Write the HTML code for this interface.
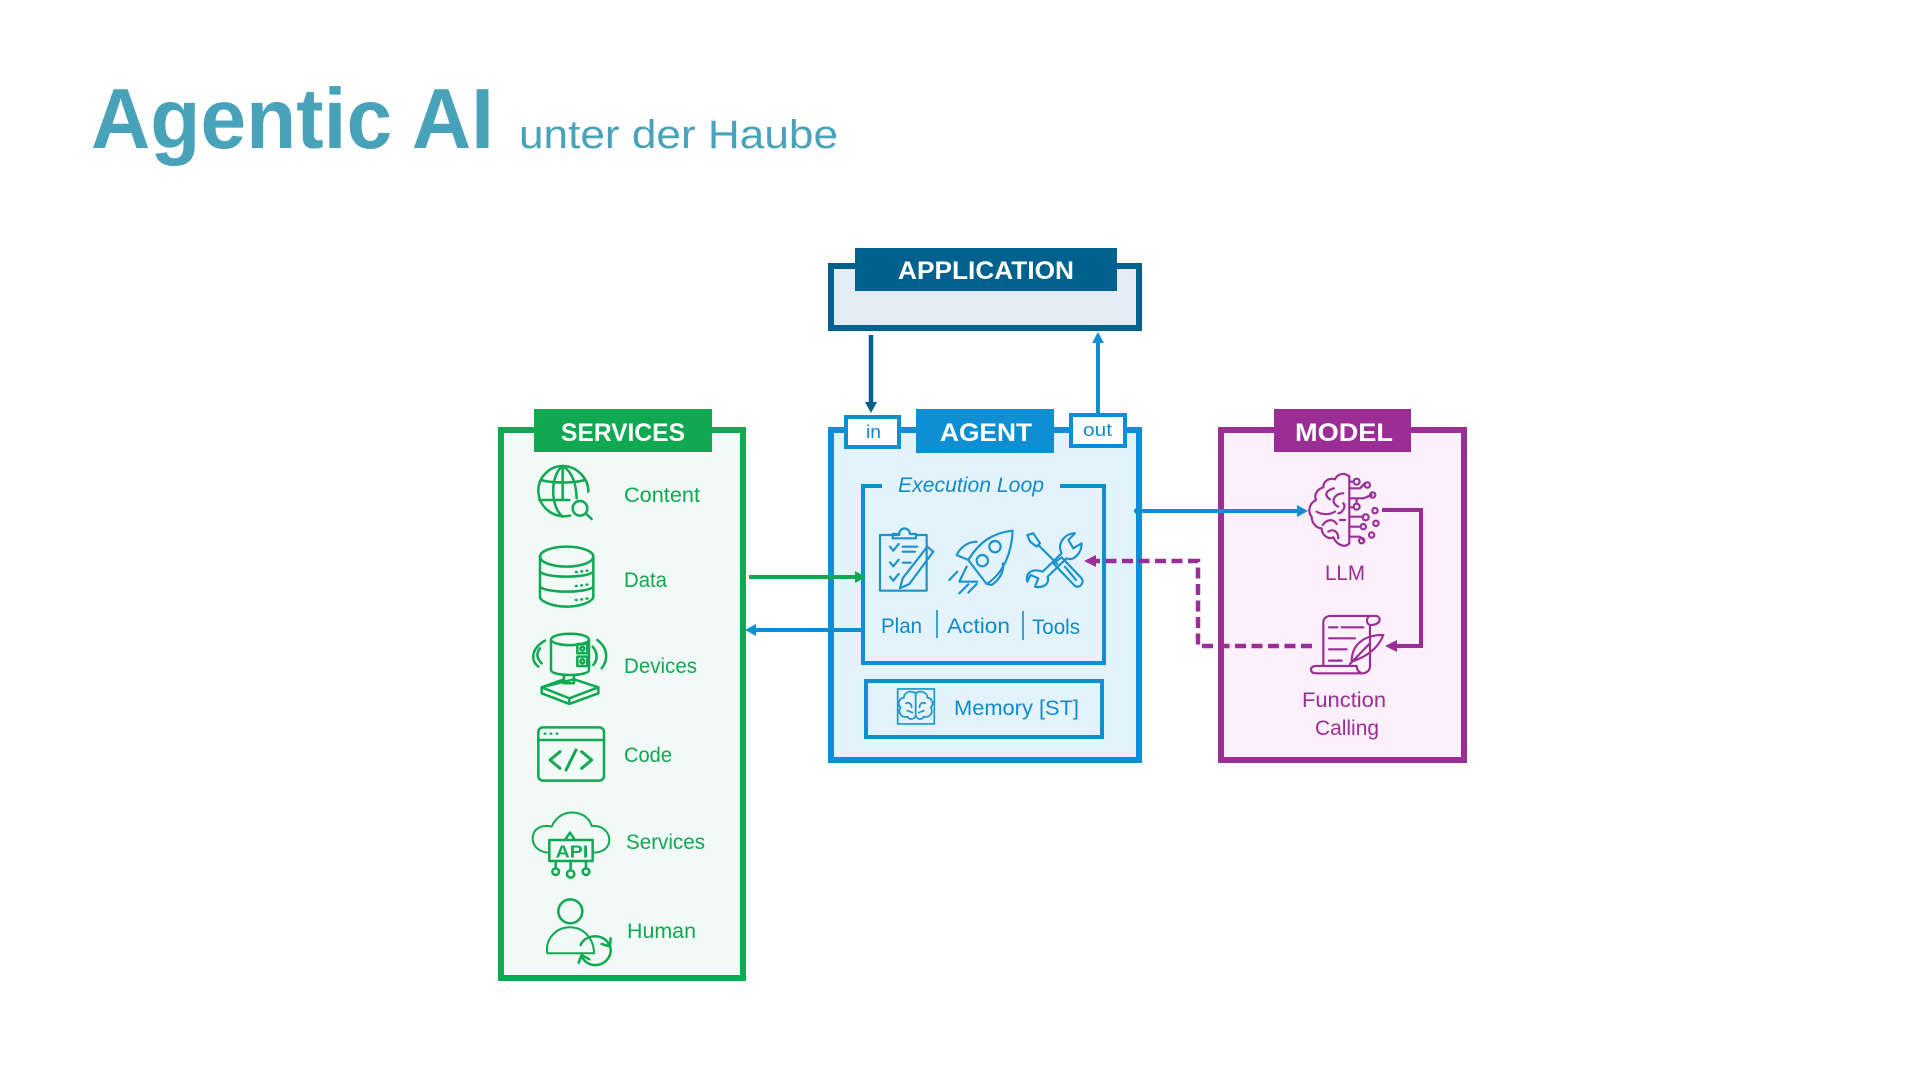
<!DOCTYPE html>
<html><head><meta charset="utf-8"><style>
html,body{margin:0;padding:0;background:#fff;width:1920px;height:1080px;overflow:hidden}
svg{display:block}
text{font-family:"Liberation Sans",sans-serif}
.h{font-weight:700;fill:#fff;font-size:25px}
.g{fill:#10A851;font-size:21px}
.b{fill:#0F8BCB;font-size:21px}
.m{fill:#9B2D96;font-size:21px}
.ig{fill:none;stroke:#10A851;stroke-width:7.5;stroke-linecap:round;stroke-linejoin:round}
.ib{fill:none;stroke:#1A93CC;stroke-width:6.5;stroke-linecap:round;stroke-linejoin:round}
.im{fill:none;stroke:#9B2D96;stroke-width:6.5;stroke-linecap:round;stroke-linejoin:round}
</style></head><body>
<svg width="1920" height="1080" viewBox="0 0 1920 1080" xmlns="http://www.w3.org/2000/svg">
<rect width="1920" height="1080" fill="#fff"/>
<text x="91" y="148" font-size="85" font-weight="700" fill="#48A3BA" textLength="403" lengthAdjust="spacingAndGlyphs">Agentic AI</text>
<text x="519" y="148" font-size="40" fill="#48A3BA" textLength="319" lengthAdjust="spacingAndGlyphs">unter der Haube</text>

<!-- Application -->
<rect x="831" y="266" width="308" height="62" fill="#E4EDF5" stroke="#00618F" stroke-width="6"/>
<rect x="855" y="248" width="262" height="43" fill="#00618F"/>
<text class="h" x="898" y="279" textLength="176" lengthAdjust="spacingAndGlyphs">APPLICATION</text>

<!-- Services -->
<rect x="501" y="430" width="242" height="548" fill="#F1FAF6" stroke="#10A851" stroke-width="6"/>
<rect x="534" y="409" width="178" height="43" fill="#10A851"/>
<text class="h" x="561" y="441" textLength="124" lengthAdjust="spacingAndGlyphs">SERVICES</text>

<!-- Agent -->
<rect x="831" y="430" width="308" height="330" fill="#E4F3FB" stroke="#0F8FD3" stroke-width="6"/>
<rect x="916" y="409" width="138" height="44" fill="#0F8FD3"/>
<text class="h" x="940" y="441" textLength="92" lengthAdjust="spacingAndGlyphs">AGENT</text>
<rect x="846" y="417" width="53" height="30" fill="#fff" stroke="#0F8FD3" stroke-width="4"/>
<text class="b" x="866" y="438" style="font-size:18px" textLength="15" lengthAdjust="spacingAndGlyphs">in</text>
<rect x="1071" y="415" width="54" height="31" fill="#fff" stroke="#0F8FD3" stroke-width="4"/>
<text class="b" x="1083" y="436" style="font-size:18px" textLength="29" lengthAdjust="spacingAndGlyphs">out</text>

<!-- Execution loop -->
<path d="M882 486H863V663H1104V486H1060" fill="none" stroke="#0F8FD3" stroke-width="4"/>
<text class="b" x="898" y="492" style="font-size:21px;font-style:italic" textLength="146" lengthAdjust="spacingAndGlyphs">Execution Loop</text>
<text class="b" x="881" y="633" textLength="41" lengthAdjust="spacingAndGlyphs">Plan</text>
<text class="b" x="947" y="633" textLength="63" lengthAdjust="spacingAndGlyphs">Action</text>
<text class="b" x="1032" y="634" textLength="48" lengthAdjust="spacingAndGlyphs">Tools</text>
<path d="M937 610V638M1023 611V640" stroke="#0F8FD3" stroke-width="1.6" fill="none"/>

<!-- Memory -->
<rect x="866" y="681" width="236" height="56" fill="none" stroke="#0F8FD3" stroke-width="4"/>
<text class="b" x="954" y="715" textLength="125" lengthAdjust="spacingAndGlyphs">Memory [ST]</text>

<!-- Model -->
<rect x="1221" y="430" width="243" height="330" fill="#FCF0FA" stroke="#9B2D96" stroke-width="6"/>
<rect x="1274" y="409" width="137" height="43" fill="#9B2D96"/>
<text class="h" x="1295" y="441" textLength="98" lengthAdjust="spacingAndGlyphs">MODEL</text>
<text class="m" x="1325" y="580" textLength="40" lengthAdjust="spacingAndGlyphs">LLM</text>
<text class="m" x="1302" y="707" textLength="84" lengthAdjust="spacingAndGlyphs">Function</text>
<text class="m" x="1315" y="735" textLength="64" lengthAdjust="spacingAndGlyphs">Calling</text>

<!-- Service labels -->
<text class="g" x="624" y="502" textLength="76" lengthAdjust="spacingAndGlyphs">Content</text>
<text class="g" x="624" y="587" textLength="43" lengthAdjust="spacingAndGlyphs">Data</text>
<text class="g" x="624" y="673" textLength="73" lengthAdjust="spacingAndGlyphs">Devices</text>
<text class="g" x="624" y="762" textLength="48" lengthAdjust="spacingAndGlyphs">Code</text>
<text class="g" x="626" y="849" textLength="79" lengthAdjust="spacingAndGlyphs">Services</text>
<text class="g" x="627" y="938" textLength="69" lengthAdjust="spacingAndGlyphs">Human</text>

<!-- Connectors -->
<g fill="none" stroke-width="4">
<path d="M871 335V403" stroke="#00618F" stroke-width="4.5"/>
<path d="M1098 413V342" stroke="#0F8FD3"/>
<path d="M749 577H856" stroke="#10A851"/>
<path d="M861 630H755" stroke="#0F8FD3"/>
<path d="M1136 511H1298" stroke="#0F8FD3"/>
<path d="M1382 510H1421V646H1396" stroke="#9B2D96"/>
<path d="M1312 646H1198V561H1096" stroke="#9B2D96" stroke-width="4.5" stroke-dasharray="11 5.5"/>
</g>
<circle cx="1137" cy="511" r="3" fill="#0F8FD3"/>
<path d="M865 402H877L871 413Z" fill="#00618F"/>
<path d="M1092 343H1104L1098 332Z" fill="#0F8FD3"/>
<path d="M855 571V583L866 577Z" fill="#10A851"/>
<path d="M756 624V636L745 630Z" fill="#0F8FD3"/>
<path d="M1297 505V517L1308 511Z" fill="#0F8FD3"/>
<path d="M1397 640V652L1385 646Z" fill="#9B2D96"/>
<path d="M1096 555V567L1084 561Z" fill="#9B2D96"/>

<!-- Service icons, upper -->
<g transform="translate(490,400) scale(.3333)" class="ig">
<path d="M240 347C190 358 145 320 145 272C145 232 178 198 218 198C258 198 295 232 295 275"/>
<path d="M218 198C180 225 180 320 218 350M218 198C245 215 258 245 260 295M218 198V300"/>
<path d="M152 240C190 250 250 250 285 240M148 300H238"/>
<circle cx="270" cy="325" r="22"/><path d="M287 340L305 357"/>
<ellipse cx="230" cy="470" rx="80" ry="30"/>
<path d="M150 470V590C150 605 190 620 230 620C270 620 310 605 310 590V470"/>
<path d="M150 515C165 535 295 535 310 515M150 560C165 580 295 580 310 560"/>
<path d="M258 516h2M274 514h2M290 512h2M258 558h2M274 556h2M290 554h2M258 600h2M274 598h2M290 596h2"/>
<path d="M183 720C183 695 297 695 297 720V810C297 830 183 830 183 810Z"/>
<path d="M183 722C200 740 280 740 297 722"/>
<rect x="262" y="732" width="30" height="28" /><rect x="262" y="770" width="30" height="28"/>
<circle cx="277" cy="746" r="6"/><circle cx="277" cy="784" r="6"/>
<path d="M222 825V850H252V825"/>
<path d="M155 862L222 838M252 838L325 862L238 895L155 862ZM155 862V880L238 912L325 880V862M238 895V912"/>
<path d="M165 722C125 745 120 780 145 800M150 745C138 760 140 775 155 790"/>
<path d="M322 720C355 745 355 780 335 805M308 740C325 760 322 780 310 795"/>
</g>

<!-- Service icons, lower -->
<g transform="translate(490,700) scale(.3333)" class="ig">
<rect x="145" y="82" width="197" height="160" rx="14"/>
<path d="M145 120H342"/>
<path d="M164 101h2M182 101h2M200 101h2" stroke-width="7"/>
<path d="M210 155L180 180L210 205M275 155L305 180L275 205" stroke-width="9"/>
<path d="M258 150L228 210" stroke-width="9"/>
<path d="M178 458C150 458 128 440 128 415C128 390 150 372 185 380C200 345 230 335 255 338C285 342 300 360 305 378C335 375 358 395 358 420C358 445 335 458 310 458" stroke-width="6"/>
<rect x="178" y="420" width="130" height="63"/>
<path d="M225 420L240 398L255 420"/>
<path d="M197 483V505M242 483V510M288 483V505"/>
<circle cx="197" cy="515" r="10"/><circle cx="242" cy="522" r="11"/><circle cx="288" cy="515" r="10"/>
<text x="197" y="472" textLength="98" lengthAdjust="spacingAndGlyphs" style="font-size:52px;font-weight:700;fill:#10A851;stroke:none">API</text>
<circle cx="241" cy="634" r="36"/>
<path d="M172 760C165 715 200 682 240 682C280 682 312 715 312 760Z" stroke-width="6"/>
<path d="M272 735C285 705 330 700 352 725L360 740M362 745C365 775 340 798 310 795C295 793 285 785 278 775"/>
<path d="M362 715L360 740L335 732M266 788L275 765L298 778"/>
</g>

<!-- Agent icons -->
<g transform="translate(820,400) scale(.3333)" class="ib">
<path d="M238 405H180V572H320V440M290 405H320V440"/>
<path d="M218 415V402H238C238 380 268 380 270 402H288V415Z"/>
<path d="M210 440L220 452L236 432M210 487L220 499L236 479M210 530L220 542L236 522"/>
<path d="M248 440H292M248 455H285M248 488H272"/>
<path d="M322 440L340 455L268 552L240 565L248 535Z"/>
<path d="M578 392C520 398 478 425 445 480L500 552C550 520 575 460 578 392Z"/>
<path d="M470 425C440 425 420 445 410 465L445 480"/>
<path d="M548 490C555 520 530 545 515 555L500 552"/>
<path d="M440 500L418 545L472 545"/>
<circle cx="525" cy="440" r="17"/><circle cx="487" cy="482" r="17"/>
<path d="M388 540L412 515M418 580L445 553M445 578L470 552"/>
<path d="M725 460C710 430 735 400 765 400L745 420L760 445L785 430C785 460 760 485 740 475L683 530C690 555 665 565 645 560L655 535L632 525L622 545C615 515 640 505 668 515Z"/>
<path d="M622 405L640 400L660 430L650 440L630 425ZM655 435L712 492"/>
<path d="M700 490L725 472L785 535C795 550 775 570 762 555Z"/>
<path d="M735 500L768 540"/>
<rect x="233" y="867" width="110" height="105" stroke-width="5"/>
<path d="M287 880C270 868 250 880 252 893C235 895 232 915 242 922C232 935 243 955 262 950C270 962 285 958 287 945V880C304 868 324 880 322 893C339 895 342 915 332 922C342 935 331 955 312 950C304 962 289 958 287 945" stroke-width="5"/>
<path d="M258 910C268 905 275 912 275 922M316 910C306 905 299 912 299 922M262 932L278 938M312 932L296 938" stroke-width="5"/>
</g>

<!-- Model icons -->
<g transform="translate(1130,400) scale(.3333)" class="im">
<path d="M655 228C640 215 620 225 615 238C595 232 580 245 580 262C560 268 552 285 558 300C538 310 532 335 545 350C545 370 560 385 575 385C575 405 595 420 610 412C620 435 645 445 658 430V228" />
<path d="M612 265C590 270 580 285 600 298M640 280C610 280 600 310 625 320M560 335C575 345 600 345 615 335M630 360H645M578 375C590 358 610 355 620 372M595 395C610 385 625 395 625 415M640 310C650 320 635 340 625 340"/>
<path d="M658 265H690L705 250M658 245H668M658 295H700L725 285M658 322H668M658 350H700M658 380H690M658 410H690L700 420M680 300V310"/>
<circle cx="680" cy="245" r="9"/><circle cx="712" cy="255" r="8"/><circle cx="728" cy="285" r="8"/><circle cx="680" cy="320" r="9"/><circle cx="735" cy="332" r="8"/><circle cx="707" cy="352" r="9"/><circle cx="738" cy="370" r="8"/><circle cx="700" cy="380" r="8"/><circle cx="725" cy="405" r="8"/><circle cx="695" cy="422" r="8"/>
<path d="M580 798V668C580 655 590 648 602 648H738C755 650 755 675 720 675V798C720 815 705 822 690 820H558C538 820 538 798 558 798H680C680 808 685 815 695 820"/>
<path d="M720 648C708 652 708 672 720 675"/>
<path d="M597 682H622M635 682H700M597 715H675M597 748H650M597 782H635"/>
<path d="M760 705C700 705 665 735 665 785C710 770 745 745 760 705Z"/>
<path d="M660 792L720 730"/>
</g>
</svg>
</body></html>
